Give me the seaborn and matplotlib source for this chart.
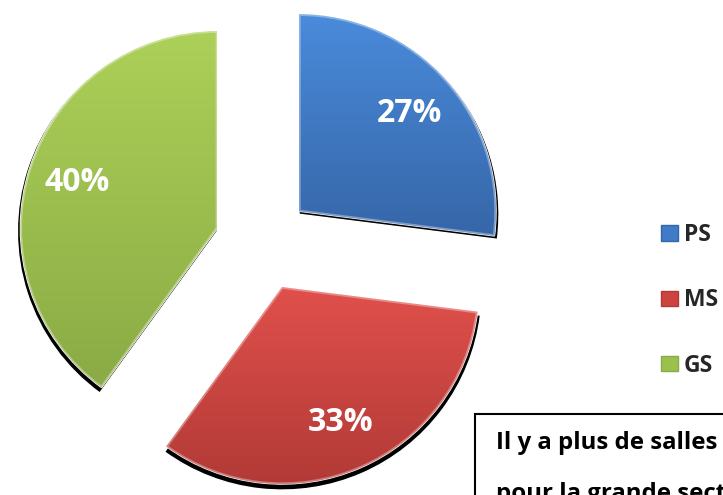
import numpy as np
import matplotlib
matplotlib.use("Agg")
import matplotlib.pyplot as plt
import matplotlib.patches as mpatches
from matplotlib.colors import LinearSegmentedColormap
import seaborn as sns

# ---- data ----
categories = ["PS", "MS", "GS"]
values = [27, 33, 40]
note_text = "Il y a plus de salles\npour la grande section"

# ---- style ----
sns.set_theme(style="white")
plt.rcParams['font.family'] = ['Open Sans', 'DejaVu Sans']

base_colors = ["#3F7BC6", "#CC4340", "#9CC04E"]
top_colors = ["#4A8BDB", "#E0504C", "#ACD058"]
bot_colors = ["#3666A8", "#B23A36", "#8AAB45"]

W, H = 723, 495
fig = plt.figure(figsize=(W / 100, H / 100), dpi=100)
ax = fig.add_axes([0, 0, 1, 1])

center = (263, H - 243)
radius = 197
explode = [48] * 3  # data units (pixels)

# shadow pie
sh_wedges, _ = ax.pie(values, radius=radius + 3, center=(center[0], center[1] - 3),
                      startangle=90, counterclock=False, explode=explode,
                      colors=["black"] * 3, frame=True)
for w in sh_wedges:
    w.set_zorder(1)

wedges, texts, autotexts = ax.pie(
    values, radius=radius, center=center, startangle=90, counterclock=False,
    explode=explode, colors=base_colors, autopct="%1.0f%%", pctdistance=0.75,
    frame=True,
    textprops=dict(color="white", fontsize=23, fontweight="bold"),
)
ax.set_xlim(0, W)
ax.set_ylim(0, H)
ax.set_axis_off()

inv = ax.transData.inverted()
for i, w in enumerate(wedges):
    w.set_zorder(2)
    cmap = LinearSegmentedColormap.from_list("g%d" % i, [bot_colors[i], top_colors[i]])
    bb = w.get_path().get_extents(w.get_transform())
    (x0, y0), (x1, y1) = inv.transform([[bb.x0, bb.y0], [bb.x1, bb.y1]])
    grad = np.linspace(0, 1, 256).reshape(-1, 1)
    im = ax.imshow(grad, extent=[x0, x1, y0, y1], origin="lower", cmap=cmap,
                   aspect="auto", zorder=3)
    im.set_clip_path(w)
    hl = mpatches.PathPatch(w.get_path(), transform=w.get_transform(),
                            facecolor="none", edgecolor="white", alpha=0.35,
                            linewidth=2.5, zorder=4)
    hl.set_clip_path(w)
    ax.add_patch(hl)

for t in autotexts:
    t.set_zorder(6)
ax.set_xlim(0, W)
ax.set_ylim(0, H)

# legend
handles = [mpatches.Rectangle((0, 0), 1, 1, facecolor=base_colors[i],
                              edgecolor=bot_colors[i], linewidth=1)
           for i in range(3)]
leg = ax.legend(handles, categories, loc="upper left",
                bbox_to_anchor=(661 / W, 1 - 223 / H), frameon=False,
                prop=dict(family="Open Sans", weight="bold", size=16.5),
                handlelength=0.72, handleheight=0.65, handletextpad=0.28,
                labelspacing=1.8, borderpad=0, borderaxespad=0)

# note box
rect = mpatches.Rectangle((475, H - 414 - 200), 400, 200, facecolor="white",
                          edgecolor="black", linewidth=1.5, zorder=7,
                          clip_on=False)
ax.add_patch(rect)
ax.text(496, H - 431, note_text, ha="left", va="top", fontsize=17.3,
        fontweight="bold", color="black", linespacing=2.5, zorder=8,
        family="Open Sans")

fig.savefig("out.png", dpi=100)
